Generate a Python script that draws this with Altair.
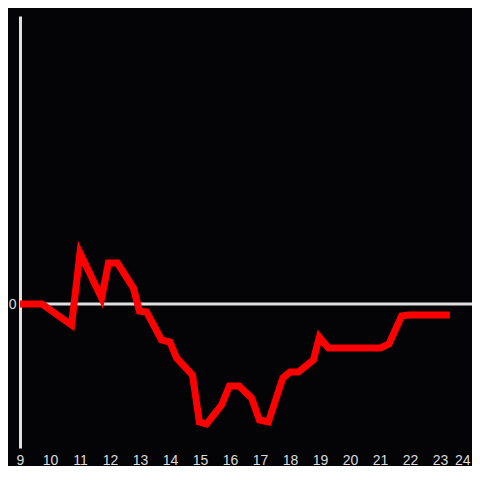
import altair as alt
import pandas as pd

hours = [9.0, 9.73, 10.72, 11.0, 11.72, 11.95, 12.25, 12.78, 12.98, 13.22, 13.72, 14.0,
         14.22, 14.75, 14.98, 15.22, 15.72, 15.98, 16.3, 16.72, 16.98, 17.28, 17.76, 18.0,
         18.28, 18.78, 18.98, 19.28, 21.02, 21.3, 21.72, 21.95, 23.33]
values = [0, 0, -21, 51, 6, 41, 41, 16, -7, -8, -36, -38,
          -54, -71, -118, -120, -101, -82, -82, -94, -116, -118, -74, -68,
          -68, -56, -33, -44, -44, -40, -12, -11, -11]
x_ticks = list(range(9, 25))

df = pd.DataFrame({"hour": hours, "value": values})

line = alt.Chart(df).mark_line(color="#ff0000", strokeWidth=7, strokeJoin="miter").encode(
    x=alt.X("hour:Q", scale=alt.Scale(domain=[9, 24.0667], nice=False, zero=False),
            axis=alt.Axis(values=x_ticks, title=None, grid=False, domain=False, ticks=False,
                          labelColor="#dddddd", labelFontSize=14, labelPadding=5,
                          labelFont="Liberation Sans", labelFlush=False,
                          labelAlign={"condition": {"test": "datum.value >= 24", "value": "right"},
                                      "value": "center"})),
    y=alt.Y("value:Q", scale=alt.Scale(domain=[-144, 288], nice=False),
            axis=alt.Axis(values=[0], title=None, grid=False, ticks=False, domain=True,
                          domainColor="#e0e0e0", domainWidth=3,
                          labelColor="#dddddd", labelFontSize=14, labelPadding=4,
                          labelFont="Liberation Sans")),
)

zero = alt.Chart(pd.DataFrame({"y": [0]})).mark_rule(color="#e0e0e0", strokeWidth=3).encode(
    y=alt.Y("y:Q")
)

chart = alt.layer(zero, line).properties(
    width=452, height=432,
    background="#040306",
    padding={"left": 12, "top": 8, "right": 0, "bottom": 18},
    autosize=alt.AutoSizeParams(type="none"),
).configure_view(stroke=None)

chart.save("out.html", embed_options={"renderer": "svg", "actions": False})
